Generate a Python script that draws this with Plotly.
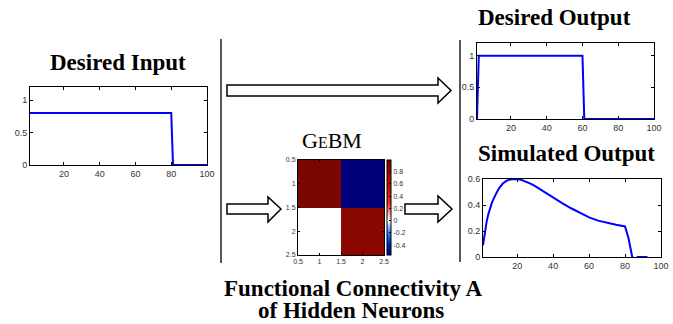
import plotly.graph_objects as go

W, H = 673, 324

# ---- data ----
input_x = [1, 80, 81, 100]
input_y = [0.8, 0.8, 0.0, 0.0]

desired_x = [1, 2, 60, 61, 100]
desired_y = [0.0, 1.0, 1.0, 0.0, 0.0]

sim_x = [1, 2, 3, 4, 5, 6, 8, 10, 12, 14, 16, 18, 20, 22, 25, 28, 30, 35, 40, 45,
         50, 55, 60, 65, 70, 75, 80, 82, 84, 86, 87, 92, 93, 100]
sim_y = [0.09, 0.2, 0.27, 0.33, 0.38, 0.42, 0.48, 0.53, 0.565, 0.585, 0.597, 0.6, 0.6,
         0.595, 0.58, 0.56, 0.545, 0.5, 0.455, 0.415, 0.375, 0.34, 0.305, 0.28, 0.262,
         0.248, 0.235, 0.14, 0.0, -0.02, 0.0, 0.0, -0.02, -0.02]

conn_x = [1, 2]
conn_y = [1, 2]
conn_z = [[0.99, -0.56], [0.0, 0.9]]
conn_ticks = [0.5, 1, 1.5, 2, 2.5]
conn_ticktext = ["0.5", "1", "1.5", "2", "2.5"]
cbar_ticks = [0.8, 0.6, 0.4, 0.2, 0, -0.2, -0.4]
cbar_ticktext = ["0.8", "0.6", "0.4", "0.2", "0", "-0.2", "-0.4"]

input_xticks = [20, 40, 60, 80, 100]
input_yticks = [0, 0.5, 1]
sim_yticks = [0, 0.2, 0.4, 0.6]


def px(x):
    return x / W


def py(y):
    return 1 - y / H


def dom_x(a, b):
    return [px(a), px(b)]


def dom_y(top, bottom):
    return [py(bottom), py(top)]


tickfont = dict(family="Liberation Sans, Arial", size=9, color="#333")


def ax(domain, rng, tickvals, anchor, ticktext=None, font=tickfont, ticklen=3, **kw):
    d = dict(domain=domain, range=rng, anchor=anchor, showline=True, linecolor="black",
             linewidth=1, mirror="ticks", ticks="inside", ticklen=ticklen,
             tickcolor="black", showgrid=False, zeroline=False, tickvals=tickvals,
             tickfont=font, automargin=False)
    if ticktext is not None:
        d["ticktext"] = ticktext
    d.update(kw)
    return d


fig = go.Figure()
line = dict(color="#0000ff", width=2)
fig.add_trace(go.Scatter(x=input_x, y=input_y, mode="lines", line=line, xaxis="x", yaxis="y"))
fig.add_trace(go.Scatter(x=desired_x, y=desired_y, mode="lines", line=line, xaxis="x2", yaxis="y2"))
fig.add_trace(go.Scatter(x=sim_x, y=sim_y, mode="lines", line=line, xaxis="x3", yaxis="y3"))

colorscale = [
    [0.0, "#00007a"], [0.12, "#0030c0"], [0.2, "#0070ff"], [0.29, "#8ab4ff"],
    [0.361, "#ffffff"], [0.45, "#ff9a90"], [0.55, "#ff2a1a"], [0.7, "#d01000"],
    [1.0, "#7a0600"],
]
fig.add_trace(go.Heatmap(
    x=conn_x, y=conn_y, z=conn_z, xaxis="x4", yaxis="y4",
    zmin=-0.56, zmax=0.99, colorscale=colorscale,
    colorbar=dict(x=px(387), xanchor="left", y=py(207.5), yanchor="middle",
                  thickness=4, thicknessmode="pixels", len=95, lenmode="pixels",
                  outlinewidth=1, outlinecolor="black", xpad=0, ypad=0,
                  tickvals=cbar_ticks, ticktext=cbar_ticktext, ticks="inside",
                  ticklen=2, tickcolor="black",
                  tickfont=dict(family="Liberation Sans, Arial", size=7, color="#333")),
))

smallfont = dict(family="Liberation Sans, Arial", size=7, color="#333")

fig.update_layout(
    width=W, height=H, margin=dict(l=0, r=0, t=0, b=0, autoexpand=False),
    paper_bgcolor="white", plot_bgcolor="white", showlegend=False,
    xaxis=ax(dom_x(30, 207), [1, 100], input_xticks, "y"),
    yaxis=ax(dom_y(87, 165), [0, 1.2], input_yticks, "x"),
    xaxis2=ax(dom_x(477, 654), [1, 100], input_xticks, "y2"),
    yaxis2=ax(dom_y(43, 119), [0, 1.2], input_yticks, "x2"),
    xaxis3=ax(dom_x(483, 661), [1, 100], input_xticks, "y3"),
    yaxis3=ax(dom_y(179, 257), [0, 0.6], sim_yticks, "x3"),
    xaxis4=ax(dom_x(298, 384), [0.5, 2.5], conn_ticks, "y4", conn_ticktext, smallfont, 2),
    yaxis4=ax(dom_y(160, 255), [2.5, 0.5], conn_ticks, "x4", conn_ticktext, smallfont, 2),
)

serif = "Liberation Serif, Times New Roman, serif"
titles = [
    ("<b>Desired Input</b>", 118, 63, 23),
    ("<b>Desired Output</b>", 554, 17, 23),
    ("<b>Simulated Output</b>", 566, 153, 23),
    ("<b>Functional Connectivity A</b>", 353, 288, 23),
    ("<b>of Hidden Neurons</b>", 351, 310, 23),
]
for text, x, y, s in titles:
    fig.add_annotation(text=text, x=px(x), y=py(y), xref="paper", yref="paper",
                       showarrow=False, xanchor="center", yanchor="middle",
                       font=dict(family=serif, size=s, color="black"))

fig.add_annotation(text="G<span style='font-size:16px'>E</span>BM", x=px(332), y=py(141),
                   xref="paper", yref="paper", showarrow=False, xanchor="center",
                   yanchor="middle", font=dict(family=serif, size=22, color="black"))


def arrow_path(x0, xb, xt, s_top, s_bot, h_top, h_bot):
    yc = (s_top + s_bot) / 2
    pts = [(x0, s_top), (xb, s_top), (xb, h_top), (xt, yc), (xb, h_bot), (xb, s_bot), (x0, s_bot)]
    return "M " + " L ".join(f"{px(a):.5f},{py(b):.5f}" for a, b in pts) + " Z"


for args in [(227, 438, 451, 85, 96, 78, 103),
             (227, 268, 281, 204, 214, 197, 222),
             (405, 438, 452, 204, 214, 196, 222)]:
    fig.add_shape(type="path", path=arrow_path(*args), xref="paper", yref="paper",
                  line=dict(color="black", width=1.5), fillcolor="white")

for x, y0, y1 in [(221, 39, 263), (460, 40, 262)]:
    fig.add_shape(type="line", x0=px(x), x1=px(x), y0=py(y0), y1=py(y1),
                  xref="paper", yref="paper", line=dict(color="black", width=1.3))

fig.write_html("out.html", config={"displayModeBar": False},
               post_script="document.body.style.margin='0';")
